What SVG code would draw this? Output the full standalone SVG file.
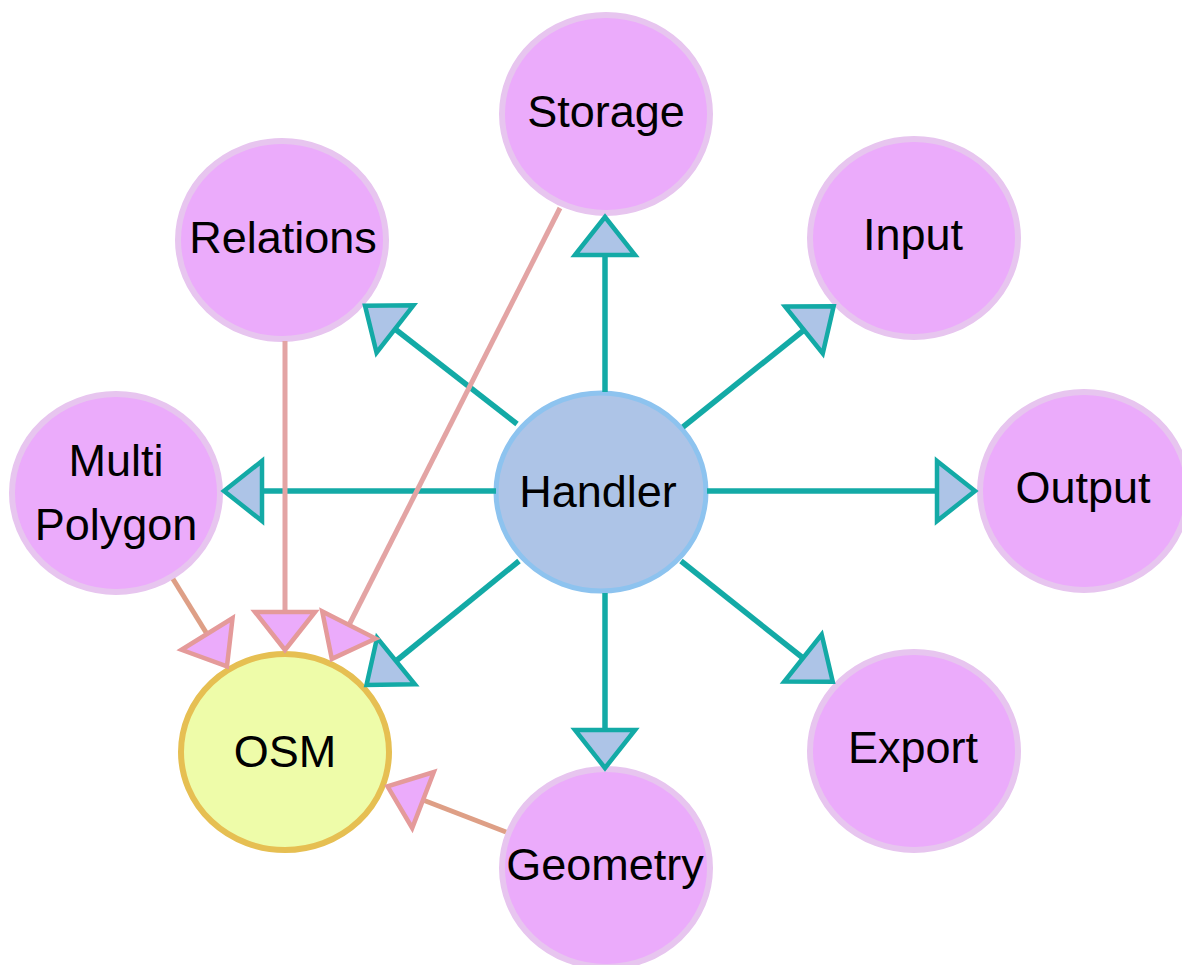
<svg xmlns="http://www.w3.org/2000/svg" width="1182" height="965" viewBox="0 0 1182 965">
<style>
.n{fill:#ebabfb;stroke:#e7c5ef;stroke-width:6}
.h{fill:#adc4e7;stroke:#8dc3ef;stroke-width:5}
.o{fill:#eefca9;stroke:#e6bf52;stroke-width:6}
text{font-family:"Liberation Sans",Arial,sans-serif;font-size:45px;fill:#000;text-anchor:middle}
.t{stroke:#13aaa6;stroke-width:5.5;fill:none}
.p{stroke:#e3a4a4;stroke-width:5;fill:none}
.q{stroke:#de9f86;stroke-width:5;fill:none}
.t{marker-end:url(#at)}
.p,.q{marker-end:url(#ap)}
</style>
<defs>
<marker id="at" markerUnits="userSpaceOnUse" markerWidth="50" markerHeight="76" viewBox="-4 -38 50 76" refX="0" refY="0" orient="auto">
<path d="M0,-30 L38,0 L0,30 Z" fill="#adc4e7" stroke="#13aaa6" stroke-width="4.5"/>
</marker>
<marker id="ap" markerUnits="userSpaceOnUse" markerWidth="50" markerHeight="76" viewBox="-4 -38 50 76" refX="0" refY="0" orient="auto">
<path d="M0,-30 L38,0 L0,30 Z" fill="#ebabfb" stroke="#e49a9a" stroke-width="4.5"/>
</marker>
</defs>
<g id="storage"><ellipse class="n" cx="606" cy="114" rx="104" ry="99"/><text x="606" y="127">Storage</text></g>
<g id="relations"><ellipse class="n" cx="282" cy="240" rx="104" ry="99"/><text x="283" y="253">Relations</text></g>
<g id="input"><ellipse class="n" cx="914" cy="238" rx="104" ry="99"/><text x="913" y="250">Input</text></g>
<g id="multipolygon"><ellipse class="n" cx="116" cy="493" rx="104" ry="99"/><text x="116" y="476">Multi</text><text x="116" y="540">Polygon</text></g>
<g id="output"><ellipse class="n" cx="1084" cy="491" rx="104" ry="99"/><text x="1083" y="503">Output</text></g>
<g id="export"><ellipse class="n" cx="914" cy="751" rx="104" ry="99"/><text x="913" y="763">Export</text></g>
<g id="geometry"><ellipse class="n" cx="606" cy="868" rx="104" ry="99"/><text x="605" y="880">Geometry</text></g>
<g id="osm"><ellipse class="o" cx="285" cy="752" rx="104" ry="98"/><text x="285" y="767">OSM</text></g>
<g id="handler"><ellipse class="h" cx="601" cy="492" rx="105" ry="99"/><text x="598" y="507">Handler</text></g>
<g id="connectors">
<line class="t" x1="605" y1="392" x2="605" y2="255"/>
<line class="t" x1="605" y1="593" x2="605" y2="730"/>
<line class="t" x1="707" y1="491" x2="937" y2="491"/>
<line class="t" x1="496" y1="491" x2="262" y2="491"/>
<line class="t" x1="517" y1="424" x2="395" y2="329"/>
<line class="t" x1="683" y1="427" x2="804" y2="330"/>
<line class="t" x1="681" y1="561" x2="803" y2="658"/>
<line class="t" x1="519" y1="561" x2="396" y2="661"/>
<line class="p" x1="285" y1="341" x2="285" y2="612"/>
<line class="p" x1="560" y1="208" x2="349" y2="625"/>
<line class="q" x1="173" y1="579" x2="207" y2="634"/>
<line class="q" x1="506" y1="832" x2="423" y2="800"/>
</g>
</svg>
